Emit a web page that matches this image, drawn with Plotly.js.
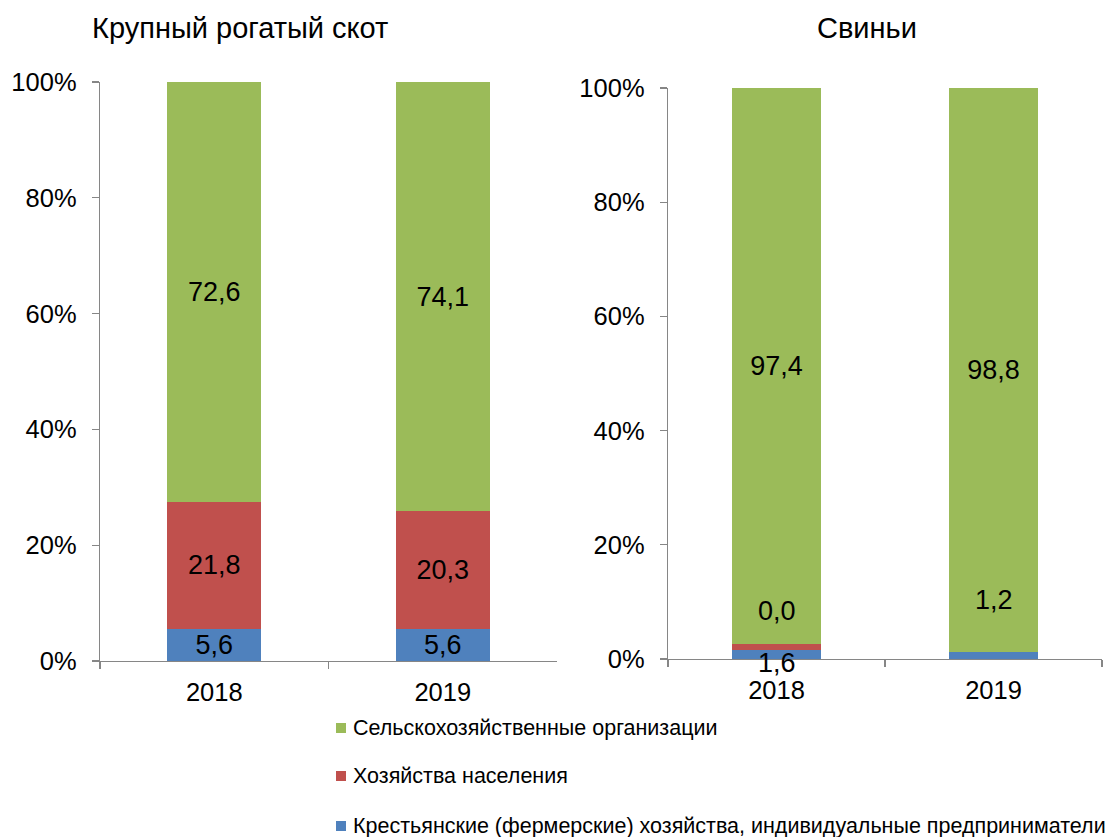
<!DOCTYPE html>
<html>
<head>
<meta charset="utf-8">
<script src="https://cdn.plot.ly/plotly-3.0.1.min.js"></script>
<style>html,body{margin:0;padding:0;background:#fff;}#chart{width:1105px;height:837px;}</style>
</head>
<body>
<div id="chart"></div>
<script>
// ---- data ----
const years = ['2018', '2019'];
const seriesNames = ['Сельскохозяйственные организации', 'Хозяйства населения', 'Крестьянские (фермерские) хозяйства, индивидуальные предприниматели'];
const colors = ['#9BBB59', '#C0504D', '#4F81BD'];

// Крупный рогатый скот
const cattleOrg = [72.6, 74.1];
const cattleHouse = [21.8, 20.3];
const cattleFarm = [5.6, 5.6];

// Свиньи
const pigsOrg = [97.4, 98.8];
const pigsHouse = [1.0, 0.0];
const pigsHouseLabels = ['0,0', ''];
const pigsFarm = [1.6, 1.2];

const panelTitles = ['Крупный рогатый скот', 'Свиньи'];
const yTickVals = [0, 20, 40, 60, 80, 100];
const yTickText = ['0%', '20%', '40%', '60%', '80%', '100%'];

const fmt = v => v.toFixed(1).replace('.', ',');
const FONT = 'Liberation Sans, Arial, sans-serif';
const LABEL_SIZE = 27;

function bar(x, y, name, color, xa, ya, showText) {
  return {
    type: 'bar', x: x, y: y, name: name, xaxis: xa, yaxis: ya,
    marker: {color: color, line: {width: 0}},
    text: showText ? y.map(fmt) : undefined,
    textposition: showText ? 'inside' : 'none',
    insidetextanchor: 'middle', textangle: 0,
    textfont: {size: LABEL_SIZE, color: '#000', family: FONT},
    constraintext: 'none',
    showlegend: false,
    hoverinfo: 'none', cliponaxis: false
  };
}

const traces = [
  bar(years, cattleFarm, seriesNames[2], colors[2], 'x', 'y', true),
  bar(years, cattleHouse, seriesNames[1], colors[1], 'x', 'y', true),
  bar(years, cattleOrg, seriesNames[0], colors[0], 'x', 'y', true),
  bar(years, pigsFarm, seriesNames[2], colors[2], 'x2', 'y2', false),
  bar(years, pigsHouse, seriesNames[1], colors[1], 'x2', 'y2', false),
  bar(years, pigsOrg, seriesNames[0], colors[0], 'x2', 'y2', true)
];

const axisGray = '#868686';
const TICK_SIZE = 25.5;
const yax = (domain, anchor) => ({
  domain: domain, anchor: anchor, range: [0, 100], tickvals: yTickVals, ticktext: yTickText,
  showgrid: false, zeroline: false, showline: true, linecolor: axisGray, linewidth: 1.3,
  ticks: 'outside', ticklen: 7, tickcolor: axisGray, tickwidth: 1.3, ticklabelstandoff: 10,
  tickfont: {size: TICK_SIZE, color: '#000', family: FONT}, fixedrange: true
});
const xax = (domain, anchor) => ({
  domain: domain, anchor: anchor, type: 'category', range: [-0.5, 1.5],
  showgrid: false, zeroline: false, showline: true, linecolor: axisGray, linewidth: 1.3,
  ticks: 'outside', tickson: 'boundaries', ticklen: 7, tickcolor: axisGray, tickwidth: 1.3,
  ticklabelstandoff: 8,
  tickfont: {size: TICK_SIZE, color: '#000', family: FONT}, fixedrange: true
});

const W = 1105, H = 837;
const titleFont = {size: 29, color: '#000', family: FONT};
const annFont = {size: LABEL_SIZE, color: '#000', family: FONT};

// legend (drawn as paper-positioned text + colour squares)
const legendRowsY = [728, 776, 826];
const legendAnn = seriesNames.map((n, i) => ({
  text: n, xref: 'paper', yref: 'paper', x: 351 / W, y: 1 - legendRowsY[i] / H,
  xanchor: 'left', yanchor: 'middle', showarrow: false,
  font: {size: 21.5, color: '#000', family: FONT}
}));
const legendShapes = seriesNames.map((n, i) => ({
  type: 'rect', xref: 'paper', yref: 'paper',
  x0: 336 / W, x1: 346 / W, y0: 1 - (legendRowsY[i] + 5) / H, y1: 1 - (legendRowsY[i] - 5) / H,
  fillcolor: colors[i], line: {width: 0}
}));

const layout = {
  width: W, height: H,
  margin: {l: 0, r: 0, t: 0, b: 0},
  paper_bgcolor: '#fff', plot_bgcolor: '#fff',
  barmode: 'stack', bargap: 0.59,
  font: {family: FONT, color: '#000'},
  showlegend: false,
  xaxis: xax([100 / W, 557 / W], 'y'),
  yaxis: yax([1 - 661 / H, 1 - 82 / H], 'x'),
  xaxis2: xax([668 / W, 1102 / W], 'y2'),
  yaxis2: yax([1 - 659 / H, 1 - 88 / H], 'x2'),
  shapes: legendShapes,
  annotations: [
    {text: panelTitles[0], xref: 'paper', yref: 'paper', x: 240 / W, y: 1 - 28 / H, showarrow: false, xanchor: 'center', yanchor: 'middle', font: titleFont},
    {text: panelTitles[1], xref: 'paper', yref: 'paper', x: 867 / W, y: 1 - 28 / H, showarrow: false, xanchor: 'center', yanchor: 'middle', font: titleFont},
    {text: fmt(pigsFarm[0]), xref: 'x2', yref: 'y2', x: 0, y: 0, yshift: -4, showarrow: false, xanchor: 'center', yanchor: 'middle', font: annFont},
    {text: pigsHouseLabels[0], xref: 'x2', yref: 'y2', x: 0, y: pigsFarm[0] + pigsHouse[0] + 5.8, showarrow: false, xanchor: 'center', yanchor: 'middle', font: annFont},
    {text: fmt(pigsFarm[1]), xref: 'x2', yref: 'y2', x: 1, y: pigsFarm[1] + 9.2, showarrow: false, xanchor: 'center', yanchor: 'middle', font: annFont}
  ].concat(legendAnn)
};

Plotly.newPlot('chart', traces, layout, {displayModeBar: false, staticPlot: true});
</script>
</body>
</html>
